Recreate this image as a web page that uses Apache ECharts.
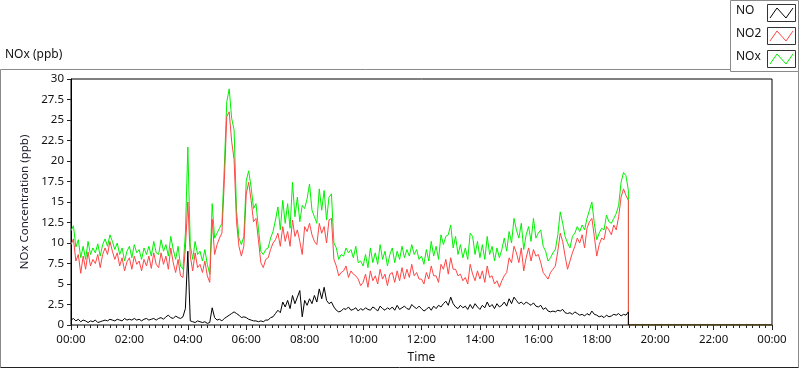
<!DOCTYPE html>
<html>
<head>
<meta charset="utf-8">
<script src="https://cdn.jsdelivr.net/npm/echarts@6/dist/echarts.min.js"></script>
<style>html,body{margin:0;padding:0;background:#fff;overflow:hidden;}#c{width:800px;height:369px;}</style>
</head>
<body>
<div id="c"></div>
<script>
// Sampling grid: readings every 5 minutes starting at 00:00
const startMinute = 0;
const stepMinutes = 5;
// Instrument stops at 19:05; readings are 0 from then until 24:00
const tailTimes = [1145, 1440];
const tailValues = [0, 0];

const noxValues = [
  11.5, 12.1, 9.5, 10.4, 8.2, 9.6, 8.0, 10.2, 8.6, 9.4, 8.8, 9.9,
  8.4, 9.8, 10.5, 9.6, 11.0, 10.2, 9.2, 10.0, 8.6, 9.4, 7.8, 9.0,
  9.6, 8.2, 9.8, 8.8, 9.2, 8.0, 9.4, 8.6, 9.6, 8.4, 10.2, 8.8,
  8.6, 10.4, 9.0, 9.8, 8.4, 10.8, 9.2, 8.0, 9.6, 7.2, 6.8, 11.2,
  21.7, 9.8, 8.0, 10.2, 8.6, 9.0, 7.8, 9.2, 7.4, 6.2, 14.8, 10.6,
  11.2, 11.8, 12.4, 19.4, 27.2, 28.8, 25.2, 23.8, 14.0, 10.6, 9.8, 10.8,
  17.6, 18.8, 16.8, 14.2, 14.8, 11.8, 9.0, 8.6, 9.2, 9.4, 10.6, 11.4,
  12.8, 14.4, 11.6, 15.2, 12.4, 14.8, 11.8, 17.4, 13.2, 15.6, 12.6, 14.6,
  14.2, 15.4, 17.2, 14.0, 13.2, 12.4, 16.6, 14.0, 16.4, 12.8, 15.6, 16.0,
  10.0, 9.4, 8.0, 8.6, 8.4, 9.4, 8.8, 9.2, 8.2, 9.6, 7.6, 7.8,
  7.2, 8.6, 7.0, 9.4, 7.6, 8.8, 7.4, 9.8, 8.0, 9.0, 7.2, 8.6,
  9.4, 7.6, 9.0, 8.0, 9.6, 8.2, 9.2, 8.4, 9.8, 8.6, 9.2, 8.0,
  8.4, 7.4, 9.2, 7.8, 10.2, 8.4, 9.6, 8.0, 11.0, 9.8, 10.8, 11.0,
  12.2, 9.4, 10.8, 8.6, 9.8, 8.2, 9.4, 8.0, 11.2, 10.8, 8.6, 10.2,
  8.2, 9.8, 8.0, 10.8, 8.6, 9.6, 7.8, 9.4, 8.2, 9.2, 10.6, 9.0,
  11.4, 10.0, 13.0, 11.6, 10.6, 12.4, 9.2, 11.0, 12.0, 10.2, 13.0, 10.6,
  11.2, 11.6, 9.6, 9.0, 7.8, 8.2, 8.8, 9.2, 11.0, 13.8, 12.4, 10.8,
  10.0, 9.4, 10.8, 11.2, 12.0, 11.4, 12.2, 11.6, 13.0, 14.0, 15.0, 12.4,
  10.4, 11.2, 11.8, 11.6, 13.4, 12.6, 12.4, 13.0, 13.6, 14.6, 17.4, 18.6,
  18.2, 16.4
];
const no2Values = [
  9.8, 10.5, 7.8, 8.6, 6.3, 8.4, 6.8, 8.9, 7.2, 8.0, 7.5, 8.6,
  7.0, 8.6, 9.4, 8.6, 10.2, 9.0, 8.0, 8.8, 7.2, 8.2, 6.6, 7.7,
  8.2, 6.8, 8.4, 7.4, 7.8, 6.6, 8.0, 7.2, 8.4, 6.9, 8.8, 7.4,
  7.0, 8.8, 7.4, 8.4, 6.8, 9.4, 7.6, 6.4, 8.0, 6.0, 5.8, 9.4,
  15.0, 8.4, 6.6, 8.8, 7.0, 7.4, 6.4, 7.8, 6.0, 5.2, 12.9, 8.6,
  9.8, 10.6, 11.2, 17.6, 25.4, 26.0, 22.4, 20.2, 12.6, 9.6, 8.4, 9.6,
  16.0, 17.4, 15.2, 12.6, 13.0, 10.4, 7.6, 7.0, 8.0, 8.2, 9.2, 10.0,
  10.4, 11.2, 9.6, 12.0, 10.2, 11.4, 9.6, 12.8, 10.8, 11.6, 10.2, 8.6,
  12.0, 11.4, 12.4, 11.0, 10.2, 9.8, 12.4, 11.2, 12.0, 10.0, 12.8, 13.0,
  8.0, 7.2, 6.0, 6.4, 6.6, 7.2, 5.8, 6.6, 6.2, 6.0, 5.6, 4.8,
  5.2, 6.2, 4.6, 6.6, 5.4, 6.0, 5.0, 6.8, 5.6, 6.2, 4.8, 6.2,
  6.4, 5.2, 6.6, 5.4, 7.0, 5.6, 6.8, 5.8, 7.4, 6.0, 6.4, 5.6,
  5.6, 5.0, 6.4, 5.6, 7.2, 6.0, 6.0, 5.2, 7.4, 6.8, 8.0, 6.2,
  8.2, 6.8, 6.8, 6.0, 6.2, 5.4, 5.8, 5.0, 7.4, 6.2, 5.4, 6.6,
  5.6, 6.6, 5.2, 7.2, 5.8, 6.0, 5.0, 5.4, 4.6, 5.4, 6.0, 6.4,
  8.2, 7.6, 9.6, 8.8, 7.6, 9.4, 6.6, 8.2, 9.4, 7.8, 9.2, 8.4,
  8.6, 7.6, 6.4, 6.0, 5.6, 6.4, 6.8, 7.2, 9.0, 11.2, 10.2, 8.4,
  6.8, 7.8, 8.8, 9.6, 10.6, 10.0, 11.0, 9.4, 11.8, 12.6, 13.0, 10.8,
  8.4, 9.8, 10.6, 10.4, 12.0, 11.6, 11.0, 12.2, 11.6, 13.2, 15.6, 16.6,
  15.8, 15.2
];
const noValues = [
  0.6, 0.8, 0.5, 0.7, 0.4, 0.6, 0.5, 0.3, 0.5, 0.4, 0.6, 0.3,
  0.4, 0.5, 0.6, 0.5, 0.7, 0.6, 0.5, 0.7, 0.6, 0.5, 0.8, 0.6,
  0.7, 0.6, 0.8, 0.6, 0.7, 0.5, 0.7, 0.8, 0.6, 0.7, 0.8, 0.6,
  0.8, 0.9, 0.7, 1.0, 1.2, 0.9, 0.8, 1.1, 0.9, 0.8, 1.0, 2.0,
  9.0, 0.5, 0.4, 0.3, 0.5, 0.4, 0.3, 0.4, 0.2, 0.3, 2.1, 0.9,
  0.6, 0.7, 0.5, 0.8, 1.0, 1.2, 1.4, 1.6, 1.4, 1.2, 0.9, 1.0,
  0.9, 0.7, 0.6, 0.5, 0.5, 0.4, 0.5, 0.4, 0.6, 0.6, 0.9, 1.0,
  1.4, 1.8, 1.5, 2.8, 2.2, 3.0, 2.0, 3.6, 2.6, 3.4, 4.2, 1.0,
  3.0, 2.4, 3.2, 2.6, 3.6, 2.8, 4.4, 3.2, 4.6, 3.0, 2.6, 2.8,
  2.2, 1.8, 1.6, 1.7, 2.0, 1.9, 2.2, 1.8, 1.9, 2.1, 1.7, 2.0,
  1.8, 2.1, 1.9, 1.8, 2.2, 2.0, 1.7, 2.3, 2.0, 1.8, 2.1, 1.9,
  2.2, 1.8, 2.4, 1.9, 2.1, 2.3, 2.0, 1.9, 2.5, 2.2, 2.0, 2.3,
  2.0, 1.7, 1.9, 2.2, 1.8, 2.3, 2.0, 2.4, 2.2, 2.6, 2.9, 2.4,
  3.4, 2.6, 2.2, 2.0, 2.4, 2.1, 2.3, 1.9, 2.5, 2.0, 2.6, 2.2,
  1.9, 2.4, 2.1, 2.8, 2.2, 2.5, 2.0, 2.6, 2.2, 2.4, 2.8, 2.3,
  3.2, 2.6, 3.4, 3.0, 2.6, 2.8, 2.5, 2.8, 2.6, 2.4, 2.7, 2.3,
  2.2, 2.4, 1.9, 2.1, 1.7, 1.6, 1.7, 1.6, 1.8, 1.7, 1.9, 1.5,
  1.4, 1.5, 1.3, 1.6, 1.4, 1.2, 1.3, 1.1, 1.4, 1.2, 1.7, 1.3,
  1.2, 1.0, 1.1, 0.9, 1.2, 1.0, 1.1, 1.3, 1.2, 1.4, 1.1, 1.3,
  1.2, 1.6
];

const seriesNames = ['NO', 'NO2', 'NOx'];
const seriesColors = ['#000000', '#ff4545', '#00f000'];
const xTickLabels = ['00:00','02:00','04:00','06:00','08:00','10:00','12:00','14:00','16:00','18:00','20:00','22:00','00:00'];

function toPoints(vals) {
  const pts = vals.map((v, i) => [startMinute + i * stepMinutes, v]);
  tailTimes.forEach((t, k) => pts.push([t, tailValues[k]]));
  return pts;
}

const FONT = 'Noto Sans';
const chart = echarts.init(document.getElementById('c'), null, {renderer: 'canvas', width: 800, height: 369});

function legendItem(i, cy) {
  return [
    {type: 'text', left: 736, top: cy - 8, style: {text: seriesNames[i], font: '12px "Noto Sans"', fill: '#111'}},
    {type: 'rect', shape: {x: 767.5, y: cy - 8.5, width: 28, height: 17}, style: {fill: '#fff', stroke: '#333', lineWidth: 1}},
    {type: 'polyline', shape: {points: [[770, cy + 5], [777, cy - 5], [786, cy + 5], [793, cy - 5]]}, style: {stroke: seriesColors[i], lineWidth: 1, fill: null}}
  ];
}

const graphics = [
  {type: 'polyline', shape: {points: [[730, 69.5], [0.5, 69.5], [0.5, 367.5]]}, style: {stroke: '#8a8a8a', lineWidth: 1, fill: null}},
  {type: 'line', shape: {x1: 798.5, y1: 71, x2: 798.5, y2: 367.5}, style: {stroke: '#8a8a8a', lineWidth: 1}},
  {type: 'line', shape: {x1: 0.5, y1: 367.5, x2: 798.5, y2: 367.5}, style: {stroke: '#222', lineWidth: 1}},
  {type: 'rect', shape: {x: 730.5, y: 0.5, width: 68, height: 71}, style: {fill: '#fff', stroke: '#8a8a8a', lineWidth: 1}},
  {type: 'text', left: 5, top: 49, style: {text: 'NOx (ppb)', font: '12px "Noto Sans"', fill: '#111'}}
].concat(legendItem(0, 13), legendItem(1, 36), legendItem(2, 59));

chart.setOption({
  animation: false,
  backgroundColor: '#ffffff',
  textStyle: {fontFamily: FONT},
  grid: {left: 71, width: 701, top: 79, height: 249, show: true, borderColor: '#000', borderWidth: 1, backgroundColor: '#fff'},
  xAxis: {
    type: 'value', min: 0, max: 1440, interval: 120,
    name: 'Time', nameLocation: 'middle', nameGap: 27,
    nameTextStyle: {fontSize: 12, color: '#111', fontFamily: FONT},
    axisLine: {show: true, lineStyle: {color: '#777', width: 1}},
    axisTick: {show: true, length: 5, inside: false, lineStyle: {color: '#222'}},
    minorTick: {show: true, splitNumber: 9, length: 3, lineStyle: {color: '#222'}},
    splitLine: {show: false},
    axisLabel: {fontSize: 11.5, color: '#111', margin: 9, fontFamily: FONT,
      formatter: (v) => xTickLabels[Math.round(v / 120)] || ''}
  },
  yAxis: {
    type: 'value', min: 0, max: 30, interval: 2.5,
    name: 'NOx Concentration (ppb)', nameLocation: 'middle', nameGap: 35, nameRotate: 90,
    nameTextStyle: {fontSize: 11.5, color: '#1a1a2a', fontFamily: FONT},
    axisLine: {show: true, lineStyle: {color: '#000', width: 1}},
    axisTick: {show: true, length: 4, lineStyle: {color: '#222'}},
    splitLine: {show: false},
    axisLabel: {fontSize: 11.5, color: '#111', margin: 7, fontFamily: FONT}
  },
  series: [
    {name: 'NOx', type: 'line', data: toPoints(noxValues), showSymbol: false, symbol: 'none', lineStyle: {color: seriesColors[2], width: 1}, z: 2},
    {name: 'NO2', type: 'line', data: toPoints(no2Values), showSymbol: false, symbol: 'none', lineStyle: {color: seriesColors[1], width: 1}, z: 3},
    {name: 'NO', type: 'line', data: toPoints(noValues), showSymbol: false, symbol: 'none', lineStyle: {color: seriesColors[0], width: 1}, z: 4}
  ],
  graphic: graphics
});
</script>
</body>
</html>
